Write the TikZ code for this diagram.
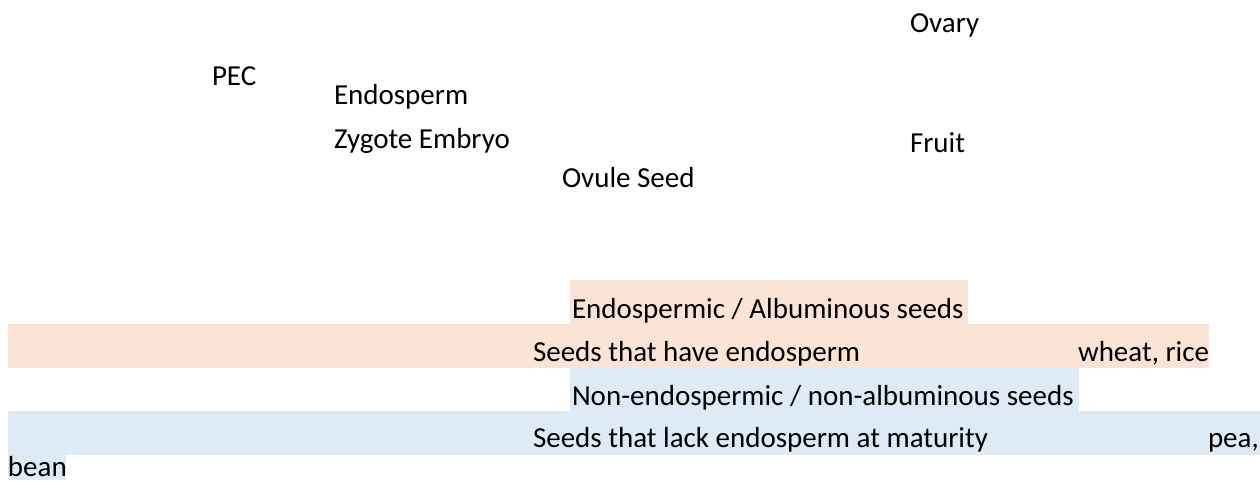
\documentclass[tikz,border=0pt]{standalone}
\usepackage{fontspec}
\setmainfont{Carlito}
\usepackage{tikz}
\definecolor{boxOrange}{RGB}{251,228,213}
\definecolor{boxBlue}{RGB}{222,234,246}

\begin{document}
\begin{tikzpicture}[x=1pt,y=-1pt,
    font=\fontsize{29}{35}\selectfont,
    word/.style={anchor=base west,inner sep=0pt,outer sep=0pt}]

    \useasboundingbox[fill=white] (0,0) rectangle (1260,480);

    % highlighted rows
    \fill[boxOrange] (570,280) rectangle (968,324);
    \fill[boxOrange] (8,324) rectangle (1209,368);
    \fill[boxBlue] (570,368) rectangle (1079,411);
    \fill[boxBlue] (8,411) rectangle (1260,455);
    \fill[boxBlue] (8,455) rectangle (66,480);

    % upper labels
    \node[word] (ovary) at (910,32) {Ovary};
    \node[word] (pec) at (212,85) {PEC};
    \node[word] (endo) at (334,104) {Endosperm};
    \node[word] (zyg) at (334,148) {Zygote Embryo};
    \node[word] (fruit) at (910,152) {Fruit};
    \node[word] (ovule) at (562,187) {Ovule Seed};

    % seed types
    \node[word] (albTitle) at (572,318) {Endospermic / Albuminous seeds};
    \node[word] (albText) at (533,361) {Seeds that have endosperm};
    \node[word] (albEx) at (1078,361) {wheat, rice};
    \node[word] (nonTitle) at (572,405) {Non-endospermic / non-albuminous seeds};
    \node[word] (nonText) at (533,447) {Seeds that lack endosperm at maturity};
    \node[word] (nonEx) at (1208,447) {pea,};
    \node[word] (nonEx2) at (8,476) {bean};
  \end{tikzpicture}
\end{document}
